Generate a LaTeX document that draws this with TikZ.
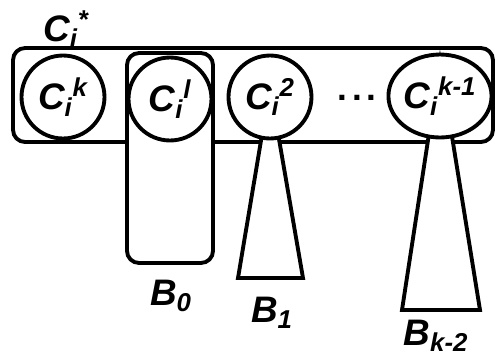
\documentclass[tikz,border=0pt]{standalone}
\usepackage{fontspec}
\setmainfont{Liberation Sans}
\usepackage{tikz}
\usetikzlibrary{positioning,shapes.geometric}

\begin{document}
\begin{tikzpicture}[
    x=0.02cm, y=-0.02cm,
    % Outer rounded frame holding all bags
    frame/.style={
        draw=black,
        line width=2.2pt,
        rounded corners=0.24cm,
        rectangle,
        minimum width=9.6cm,
        minimum height=1.88cm
    },
    % Single bag drawn as a white circle
    bag/.style={
        draw=black,
        fill=white,
        line width=2.2pt,
        circle,
        inner sep=0pt,
        minimum size=1.66cm,
        font=\fontsize{21}{23}\selectfont\bfseries\itshape
    },
    % Subtree below a bag
    subtree/.style={
        draw=black,
        fill=white,
        line width=2.2pt,
        line join=miter
    },
    % Labels under the subtrees
    treelabel/.style={
        font=\fontsize{21}{23}\selectfont\bfseries\itshape,
        inner sep=1pt
    }
]
\useasboundingbox (0,0) rectangle (495,356);

% --- Outer frame ---
\node[frame] (cstar) at (253,95) {};
\node[treelabel] (cstarlabel) at (66,29) {C\textsubscript{i}\textsuperscript{*}};

% --- Box B_0 under the second bag ---
\node[draw=black, fill=white, line width=2.2pt, rounded corners=0.24cm,
      minimum width=1.72cm, minimum height=4.2cm] (bzero) at (170,158) {};

% --- Bags ---
\coordinate (ctwo_c) at (270,97);
\coordinate (clast_c) at (440,96);

% Subtrees first, so the bags cover their tips
\draw[subtree] (ctwo_c) ++(0,-10) coordinate (tone) -- (238,278) coordinate (tone_l)
    -- (303,278) coordinate (tone_r) -- cycle;
\draw[subtree] (440,62) coordinate (ttwo) -- (402,310) coordinate (ttwo_l)
    -- (480,310) coordinate (ttwo_r) -- cycle;

\node[bag] (ck) at (63,97) {C\textsubscript{i}\textsuperscript{k}};
\node[bag] (cl) at (170,99) {C\textsubscript{i}\textsuperscript{l}};
\node[bag] (ctwo) at (ctwo_c) {C\textsubscript{i}\textsuperscript{2}};
\node[font=\fontsize{20}{22}\selectfont\bfseries, anchor=base, inner sep=0pt] (dots) at (357,100)
    {.\hspace{2.5pt}.\hspace{2.5pt}.};
\node[bag, ellipse, minimum width=1.9cm, minimum height=1.66cm] (clast) at (clast_c)
    {C\textsubscript{i}\textsuperscript{k-1}};

% --- Subtree labels ---
\node[treelabel] (bzerolabel) at (171,296) {B\textsubscript{0}};
\node[treelabel] (bonelabel) at (272,313) {B\textsubscript{1}};
\node[treelabel] (blastlabel) at (436,336) {B\textsubscript{k-2}};

\end{tikzpicture}
\end{document}
